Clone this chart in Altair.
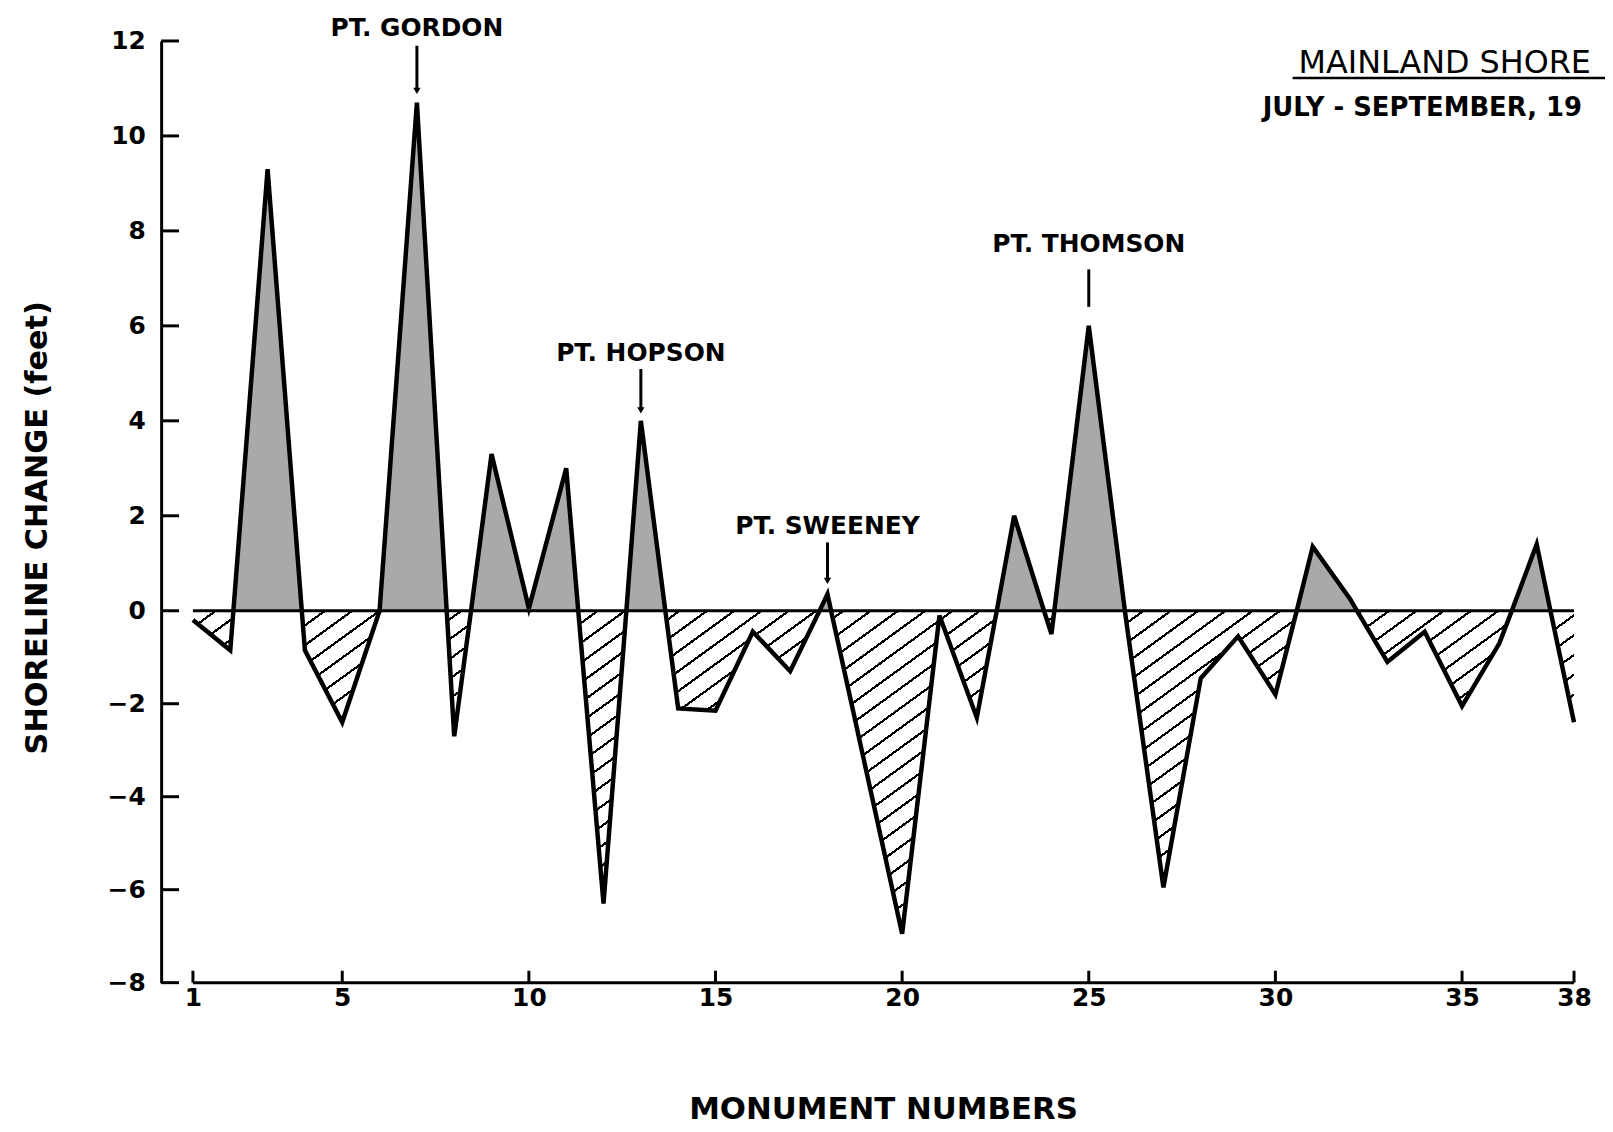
import math
import altair as alt
import pandas as pd

# ---------------- data ----------------
monuments = list(range(1, 39))
change_ft = [-0.2, -0.85, 9.3, -0.85, -2.4, 0.0, 10.7, -2.7, 3.3, 0.05,
             3.0, -6.3, 4.0, -2.1, -2.15, -0.45, -1.3, 0.35, -3.3, -6.95,
             -0.1, -2.3, 2.0, -0.5, 6.0, -0.2, -5.95, -1.45, -0.55, -1.8,
             1.35, 0.25, -1.1, -0.45, -2.05, -0.7, 1.4, -2.4]

x_tick_values = [1, 5, 10, 15, 20, 25, 30, 35, 38]
y_ticks_top = [0, 2, 4, 6, 8, 10, 12]
y_ticks_bottom = [-2, -4, -6, -8]

ann_names = ["PT. GORDON", "PT. HOPSON", "PT. SWEENEY", "PT. THOMSON"]
ann_monument = [7, 13, 18, 25]

header_main = "MAINLAND SHORE"
header_sub = "JULY - SEPTEMBER, 19"

y_title = "SHORELINE CHANGE (feet)"
x_title = "MONUMENT NUMBERS"

# ---------------- layout / style ----------------
FONT = "DejaVu Sans"
PLOT_W = 1452
TOP_H = 573
BOT_H = 374
X_MIN, X_MAX = 0.148, 38.83
Y_TOP = [0, 12]
Y_BOT = [-8, 0]

ann_label_y = [12.27, 5.43, 1.79, 7.73]
ann_arrow_top = [11.9, 5.09, 1.44, 7.19]
ann_arrow_bottom = [10.95, 4.22, 0.63, 6.40]
ann_head = [True, True, True, False]

STIPPLE = "#a9a9a9"
LINE_W = 4.5

df = pd.DataFrame({"monument": monuments, "change": change_ft})
ann = pd.DataFrame({"name": ann_names, "m": ann_monument, "ly": ann_label_y,
                    "at": ann_arrow_top, "ab": ann_arrow_bottom, "head": ann_head})

xscale = alt.Scale(domain=[X_MIN, X_MAX], nice=False, zero=False)
ys_top = alt.Scale(domain=Y_TOP, nice=False, zero=False)
ys_bot = alt.Scale(domain=Y_BOT, nice=False, zero=False)

axis_style = dict(ticks=False, tickSize=0, labelPadding=16, domainWidth=3,
                  domainColor="black", labelFont=FONT, labelFontSize=25,
                  labelFontWeight="bold", labelColor="black", grid=False, format="d")
yaxis_top = alt.Axis(values=y_ticks_top, title=None, **axis_style)
yaxis_bot = alt.Axis(values=y_ticks_bottom, title=y_title, titleX=-124, titleY=-84,
                     titleAngle=270, titleAlign="center", titleBaseline="middle",
                     titleFont=FONT, titleFontSize=30.5, titleFontWeight="bold",
                     titleColor="black", **axis_style)

xaxis_bot = alt.Axis(values=x_tick_values, domain=False, ticks=False, tickSize=0,
                     labelPadding=3, labelFont=FONT, labelFontSize=25,
                     labelFontWeight="bold", labelColor="black", labelFlush=False,
                     grid=False, format="d", title=x_title, titleFont=FONT,
                     titleFontSize=31, titleFontWeight="bold", titleColor="black",
                     titlePadding=85)

xt = alt.X("monument:Q", scale=xscale, axis=None)
yt = alt.Y("change:Q", scale=ys_top, axis=yaxis_top)
xb = alt.X("monument:Q", scale=xscale, axis=xaxis_bot)
yb = alt.Y("change:Q", scale=ys_bot, axis=yaxis_bot)

# ---------------- hatch gradient for negative areas ----------------
px_x = PLOT_W / (X_MAX - X_MIN)
px_y = BOT_H / (Y_BOT[1] - Y_BOT[0])
W = (max(monuments) - min(monuments)) * px_x
H = (max(change_ft) - min(change_ft)) * px_y
theta = math.radians(36)
nx, ny = math.sin(theta), math.cos(theta)
L = nx * W + ny * H
k = L / (nx * nx * W * W + ny * ny * H * H)
gx, gy = k * nx * W, k * ny * H
N = int(L / 16)
stops = []
for i in range(N):
    a, b, c = i / N, (i + 0.86) / N, (i + 1) / N
    stops += [alt.GradientStop(color="white", offset=a),
              alt.GradientStop(color="white", offset=b),
              alt.GradientStop(color="black", offset=b),
              alt.GradientStop(color="black", offset=c)]
hatch = alt.LinearGradient(gradient="linear", stops=stops, x1=0, y1=0, x2=gx, y2=gy)

# ---------------- top panel (positive) ----------------
base = alt.Chart(df)
area_top = base.mark_area(fill=STIPPLE, clip=True).encode(x=xt, y=yt, y2=alt.datum(0))
line_top = base.mark_line(color="black", strokeWidth=LINE_W, clip=True,
                          strokeJoin="miter", strokeMiterLimit=4).encode(x=xt, y=yt)
yticks_top = alt.Chart(pd.DataFrame({"change": y_ticks_top})).mark_rule(
    color="black", strokeWidth=3).encode(y=yt, x=alt.value(0), x2=alt.value(18))

ann_text = alt.Chart(ann).mark_text(font=FONT, fontSize=25, fontWeight="bold",
                                    align="center", baseline="middle", color="black").encode(
    x=alt.X("m:Q", scale=xscale, axis=None),
    y=alt.Y("ly:Q", scale=ys_top, axis=yaxis_top), text="name:N")
ann_rule = alt.Chart(ann).mark_rule(color="black", strokeWidth=3).encode(
    x=alt.X("m:Q", scale=xscale, axis=None),
    y=alt.Y("at:Q", scale=ys_top, axis=yaxis_top), y2="ab:Q")
ann_headm = alt.Chart(ann).transform_filter("datum.head").mark_point(
    shape="triangle-down", filled=True, size=55, color="black", opacity=1).encode(
    x=alt.X("m:Q", scale=xscale, axis=None),
    y=alt.Y("ab:Q", scale=ys_top, axis=yaxis_top))

hdr = pd.DataFrame({"t": [header_main, header_sub], "x": [30.62, 29.66], "y": [11.54, 10.58]})
hdr_main = alt.Chart(hdr.iloc[[0]]).mark_text(
    font=FONT, fontSize=32, fontWeight="normal", align="left", baseline="middle",
    color="black", clip=True).encode(
    x=alt.X("x:Q", scale=xscale, axis=None),
    y=alt.Y("y:Q", scale=ys_top, axis=yaxis_top), text="t:N")
hdr_sub = alt.Chart(hdr.iloc[[1]]).mark_text(
    font=FONT, fontSize=26, fontWeight="bold", align="left", baseline="middle",
    color="black", clip=True).encode(
    x=alt.X("x:Q", scale=xscale, axis=None),
    y=alt.Y("y:Q", scale=ys_top, axis=yaxis_top), text="t:N")
underline = alt.Chart(pd.DataFrame({"x": [30.46], "x2": [X_MAX], "y": [11.22]})).mark_rule(
    color="black", strokeWidth=2.5, clip=True).encode(
    x=alt.X("x:Q", scale=xscale, axis=None), x2="x2:Q",
    y=alt.Y("y:Q", scale=ys_top, axis=yaxis_top))

top = alt.layer(area_top, line_top, yticks_top, ann_rule, ann_headm, ann_text,
                hdr_main, hdr_sub, underline).properties(width=PLOT_W, height=TOP_H)

# ---------------- bottom panel (negative) ----------------
area_bot = base.mark_area(fill=hatch, clip=True).encode(x=xb, y=yb, y2=alt.datum(0))
line_bot = base.mark_line(color="black", strokeWidth=LINE_W, clip=True,
                          strokeJoin="miter", strokeMiterLimit=4).encode(x=xb, y=yb)
lines_df = pd.DataFrame({"monument": [monuments[0], monuments[0]],
                         "end": [monuments[-1], monuments[-1]],
                         "change": [0, Y_BOT[0]]})
base_lines = alt.Chart(lines_df).mark_rule(color="black", strokeWidth=3).encode(
    x=xb, x2="end:Q", y=yb)
xticks = alt.Chart(pd.DataFrame({"monument": x_tick_values})).mark_rule(
    color="black", strokeWidth=3).encode(x=xb, y=alt.value(BOT_H), y2=alt.value(BOT_H - 12))
yticks_bot = alt.Chart(pd.DataFrame({"change": y_ticks_bottom})).mark_rule(
    color="black", strokeWidth=3).encode(y=yb, x=alt.value(0), x2=alt.value(18))

bottom = alt.layer(area_bot, line_bot, base_lines, xticks, yticks_bot).properties(
    width=PLOT_W, height=BOT_H)

chart = alt.vconcat(top, bottom, spacing=0, bounds="flush").resolve_scale(
    y="independent").properties(
    padding={"left": 14, "top": 5, "right": 0, "bottom": 0}, background="white"
).configure_view(stroke=None)

chart.save("out.html", embed_options={"renderer": "svg", "actions": False})
